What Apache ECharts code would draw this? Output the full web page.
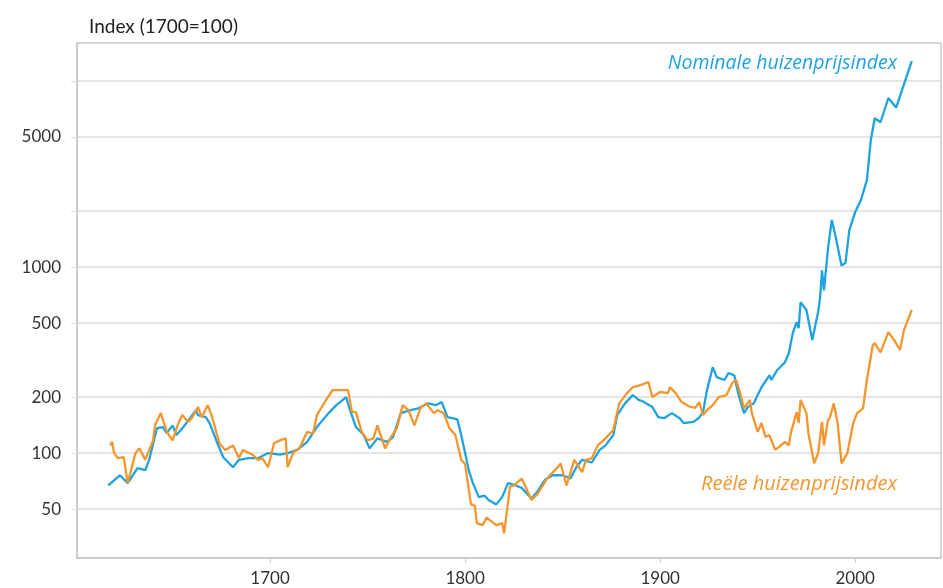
<!DOCTYPE html>
<html>
<head>
<meta charset="utf-8">
<script src="https://cdn.jsdelivr.net/npm/echarts@6/dist/echarts.min.js"></script>
<style>
html,body{margin:0;padding:0;background:#fff;}
#chart{width:943px;height:588px;}
</style>
</head>
<body>
<div id="chart"></div>
<script>
// ---- data (index, 1700 = 100) ----
const nominalYears = [1617,1623,1627,1632,1636,1638,1642,1645,1647,1650,1652,1655,1659,1662,1663,1667,1669,1673,1676,1681,1684,1689,1694,1699,1705,1709,1714,1719,1724,1730,1734,1739,1741,1744,1748,1751,1755,1760,1763,1767,1772,1776,1781,1785,1788,1791,1796,1798,1800,1802,1804,1807,1810,1812,1816,1819,1822,1826,1829,1834,1837,1841,1845,1850,1854,1857,1860,1865,1869,1872,1876,1878,1882,1886,1889,1891,1896,1899,1902,1906,1910,1912,1917,1920,1922,1924,1927,1929,1933,1935,1938,1940,1943,1945,1948,1950,1952,1956,1957,1960,1964,1966,1968,1970,1971,1972,1975,1976,1978,1981,1982,1983,1984,1986,1988,1990,1993,1995,1997,2000,2003,2006,2008,2010,2013,2017,2021,2029];
const nominalValues = [67,76,69,83,81,92,136,138,128,141,125,136,154,170,160,156,145,113,95,84,92,94,94,100,98,100,104,115,138,164,181,200,170,138,125,106,120,115,122,164,170,174,185,181,188,156,152,125,100,80,69,58,59,56,53,58,69,67,65,57,62,72,76,76,73,84,92,89,104,110,125,160,185,205,193,190,177,156,154,164,154,145,147,155,166,218,290,256,247,269,262,210,164,177,185,205,226,262,247,279,308,345,442,506,470,647,588,519,405,573,680,960,750,1240,1790,1450,1020,1050,1580,1975,2300,2930,4800,6300,6000,8100,7200,12800];

const realYears = [1618,1619,1620,1622,1625,1627,1631,1633,1636,1640,1641,1644,1645,1647,1650,1653,1655,1658,1660,1663,1665,1668,1670,1674,1677,1681,1684,1686,1691,1694,1696,1699,1702,1705,1708,1709,1712,1715,1719,1722,1724,1728,1732,1735,1740,1742,1744,1747,1750,1753,1755,1759,1762,1765,1768,1771,1774,1777,1780,1784,1786,1789,1792,1795,1798,1800,1803,1805,1806,1809,1811,1816,1819,1820,1823,1825,1829,1831,1834,1837,1842,1847,1849,1852,1856,1860,1862,1865,1868,1872,1876,1879,1883,1886,1890,1894,1896,1900,1904,1905,1908,1911,1915,1918,1920,1922,1924,1927,1930,1934,1937,1939,1941,1943,1946,1947,1950,1952,1954,1956,1959,1961,1964,1966,1967,1970,1971,1972,1975,1976,1979,1981,1983,1984,1986,1987,1989,1991,1993,1996,1999,2001,2004,2006,2009,2010,2013,2017,2020,2023,2025,2029];
const realValues = [110,115,100,94,95,69,100,106,92,117,141,164,164,130,117,145,160,147,155,177,156,181,160,113,104,110,94,104,98,92,94,84,113,117,120,84,101,106,130,127,160,188,218,218,218,166,166,130,117,120,141,106,122,136,181,170,141,174,185,164,170,164,136,125,92,87,53,52,42,41,45,41,42,37,66,67,73,66,56,60,73,83,88,67,92,79,92,94,110,120,133,185,210,226,232,241,200,213,210,226,210,188,178,175,188,160,170,181,200,205,238,247,210,174,193,164,130,145,122,125,104,108,115,110,128,166,145,193,164,128,88,100,147,110,150,155,185,145,88,100,145,164,174,247,380,390,348,447,405,358,458,588];

const xTickYears = [1700, 1800, 1900, 2000];
const yLabelValues = [50, 100, 200, 500, 1000, 5000];
const yGridValues = [50, 100, 200, 500, 1000, 2000, 5000, 10000];

const seriesNames = ['Nominale huizenprijsindex', 'Reële huizenprijsindex'];
const titleText = 'Index (1700=100)';

// ---- chart ----
const lg = v => Math.log10(v);
const pairs = (xs, ys) => xs.map((x, i) => [x, lg(ys[i])]);

const chart = echarts.init(document.getElementById('chart'), null, {renderer: 'canvas'});
chart.setOption({
  animation: false,
  backgroundColor: '#ffffff',
  title: {
    text: titleText,
    left: 84, top: 12,
    textStyle: {fontFamily: 'Lato', fontSize: 19, fontWeight: 'normal', color: '#222'}
  },
  grid: {left: 77, right: 2, top: 43, bottom: 30, show: true, borderColor: '#c9c9c9', borderWidth: 1.5},
  xAxis: {
    type: 'value', min: 1601, max: 2044,
    axisLine: {show: true, lineStyle: {color: '#c9c9c9', width: 1.5}},
    axisTick: {show: true, length: 5, lineStyle: {color: '#d0d0d0'}, customValues: xTickYears},
    axisLabel: {customValues: xTickYears, color: '#333', fontFamily: 'Lato', fontSize: 17, margin: 12,
      formatter: v => String(v)},
    splitLine: {show: false}
  },
  yAxis: {
    type: 'value', min: lg(27.3), max: lg(16000),
    axisLine: {show: true, lineStyle: {color: '#c9c9c9', width: 1.5}},
    axisTick: {show: true, length: 6, lineStyle: {color: '#dddddd'}, customValues: yGridValues.map(lg)},
    axisLabel: {
      customValues: yLabelValues.map(lg), color: '#333', fontFamily: 'Lato', fontSize: 17, margin: 16,
      formatter: v => String(Math.round(Math.pow(10, v)))
    },
    splitLine: {show: true, lineStyle: {color: '#dddddd', width: 1.5}}
  },
  series: [
    {
      name: seriesNames[0], type: 'line', data: pairs(nominalYears, nominalValues),
      showSymbol: false, lineStyle: {color: '#1fa2e0', width: 2.3}, itemStyle: {color: '#1fa2e0'}, z: 2
    },
    {
      name: seriesNames[1], type: 'line', data: pairs(realYears, realValues),
      showSymbol: false, lineStyle: {color: '#f3962e', width: 2.3}, itemStyle: {color: '#f3962e'}, z: 3
    }
  ],
  graphic: [
    {type: 'text', right: 943 - 897, top: 53,
     style: {text: seriesNames[0], fill: '#1fa2e0', font: 'italic 19.5px "Open Sans"'}},
    {type: 'text', right: 943 - 897, top: 474,
     style: {text: seriesNames[1], fill: '#f3962e', font: 'italic 20px "Open Sans"'}}
  ]
});
</script>
</body>
</html>
